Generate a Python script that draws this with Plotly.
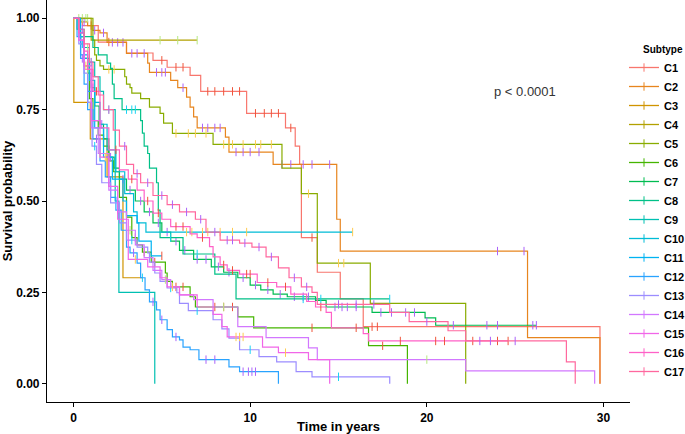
import math
import numpy as np
import plotly.graph_objects as go

# ---------------- data ----------------
subtypes = [f"C{i}" for i in range(1, 18)]

c1_t = [0, 0.5, 1.4, 3.0, 4.5, 5.3, 6.6, 7.2, 9.8, 12.0, 12.55, 12.8, 12.9, 13.8, 15.1, 16.4, 29.8]
c1_s = [1, 0.98, 0.935, 0.905, 0.885, 0.866, 0.844, 0.80, 0.74, 0.70, 0.65, 0.60, 0.40, 0.305, 0.232, 0.156, 0]
c1_c = [1.0, 2.0, 5.0, 5.8, 6.2, 7.6, 8.0, 8.5, 9.0, 9.4, 10.3, 10.8, 11.2, 11.6, 12.3, 13.5, 16.9, 17.2]

c2_t = [0, 0.4, 0.8, 1.1, 1.5, 1.9, 3.0, 4.2, 4.3, 5.5, 5.9, 6.4, 6.6, 6.8, 7.0, 8.6, 8.8, 11.3, 14.9, 15.1, 25.7, 29.8]
c2_s = [1, 0.99, 0.98, 0.967, 0.96, 0.934, 0.904, 0.877, 0.852, 0.83, 0.81, 0.784, 0.757, 0.73, 0.70, 0.675, 0.634, 0.60, 0.45, 0.363, 0.126, 0]
c2_c = [0.6, 1.2, 1.7, 2.2, 2.5, 2.8, 3.3, 3.6, 4.0, 4.7, 5.0, 5.2, 6.2, 7.3, 7.6, 8.0, 8.3, 9.2, 9.6, 10.0, 10.5, 11.8, 12.3, 13.0, 13.5, 14.5, 24.0, 25.5]

c3_t = [0, 0.02, 0.95, 1.9, 2.8]
c3_s = [1, 0.77, 0.67, 0.566, 0.29]
c3_c = [0.8, 3.9]

c4_t = [0, 1.0]
c4_s = [1, 0.94]
c4_c = [0.3, 0.5, 0.7, 0.8, 4.9, 5.9, 7.0]

c5_t = [0, 1.1, 1.2, 1.3, 1.5, 1.7, 2.9, 3.0, 3.2, 3.3, 3.8, 4.3, 4.9, 5.1, 5.6, 7.9, 11.8, 12.9, 13.8, 16.8, 22.2]
c5_s = [1, 0.94, 0.90, 0.885, 0.87, 0.86, 0.84, 0.82, 0.81, 0.795, 0.78, 0.757, 0.74, 0.713, 0.685, 0.655, 0.59, 0.52, 0.33, 0.22, 0]
c5_c = [2.0, 2.3, 5.8, 6.5, 6.9, 7.5, 8.5, 8.8, 9.0, 9.6, 10.3, 10.6, 11.2, 13.3, 15.0, 15.3]

c6_t = [0, 0.3, 0.6, 0.9, 1.1, 1.4, 1.7, 2.0, 2.25, 2.6, 3.0, 3.3, 3.6, 3.9, 4.4, 5.2, 5.3, 5.6, 6.6, 6.9, 9.3, 10.2, 16.7, 18.9]
c6_s = [1, 0.95, 0.87, 0.78, 0.72, 0.68, 0.65, 0.61, 0.58, 0.51, 0.456, 0.40, 0.38, 0.36, 0.333, 0.303, 0.28, 0.265, 0.238, 0.21, 0.183, 0.153, 0.104, 0]
c6_c = [3.5, 4.0, 4.6, 5.8, 6.2, 8.0, 8.5, 9.0, 13.5, 17.5]

c7_t = [0, 0.2, 0.4, 0.6, 0.8, 1.0, 1.2, 1.45, 1.7, 2.0, 2.3, 2.6, 3.0, 3.5, 4.0, 4.5, 5.0, 5.5, 6.0, 6.8, 7.8, 8.5, 9.3, 10.0, 10.6, 11.3, 12.1, 13.7, 14.3, 16.9, 19.9, 20.5]
c7_s = [1, 0.97, 0.93, 0.89, 0.85, 0.81, 0.76, 0.71, 0.67, 0.62, 0.59, 0.56, 0.53, 0.50, 0.47, 0.44, 0.415, 0.39, 0.365, 0.34, 0.32, 0.305, 0.29, 0.27, 0.257, 0.245, 0.238, 0.228, 0.21, 0.195, 0.18, 0.16]
c7_c = [0.5, 1.1, 1.6, 2.1, 2.8, 3.2, 3.8, 4.3, 4.8, 5.3, 5.8, 6.3, 7.0, 7.5, 8.2, 8.8, 9.6, 10.3, 11.0, 11.7, 12.5, 13.0, 13.3, 14.8, 15.2, 15.5, 16.0, 17.4, 18.0, 18.8, 19.3, 21.5, 23.4, 24.0, 26.0, 26.2]

c8_t = [0, 0.3, 0.6, 1.1, 1.4, 1.9, 2.1, 2.2, 2.3, 2.75, 3.8, 3.9, 4.0, 4.2, 4.3, 4.7, 4.8, 4.9, 6.2, 8.0, 9.2]
c8_s = [1, 0.97, 0.95, 0.92, 0.90, 0.877, 0.863, 0.82, 0.78, 0.75, 0.72, 0.686, 0.65, 0.63, 0.59, 0.55, 0.475, 0.40, 0.355, 0.30, 0.232]
c8_c = [3.0, 3.3, 3.5, 5.5, 7.0, 13.0, 14.0, 17.9]

c9_t = [0, 0.3, 0.6, 0.9, 1.2, 1.5, 1.7, 2.36, 2.57, 4.6]
c9_s = [1, 0.96, 0.92, 0.88, 0.84, 0.80, 0.75, 0.50, 0.25, 0]
c9_c = [0.8, 1.0, 2.0]

c10_t = [0, 0.3, 0.6, 0.9, 1.2, 1.5, 1.9, 2.4, 2.9, 3.4, 3.6, 4.1]
c10_s = [1, 0.95, 0.89, 0.83, 0.77, 0.71, 0.64, 0.58, 0.52, 0.47, 0.44, 0.415]
c10_c = [1.0, 6.4, 6.7, 7.3, 7.6, 8.3, 9.0, 9.8, 15.8]

c11_t = [0, 0.4, 0.8, 1.2, 1.7, 2.2, 2.8, 3.0, 3.6, 3.7, 4.4]
c11_s = [1, 0.90, 0.80, 0.70, 0.62, 0.56, 0.50, 0.46, 0.44, 0.39, 0.35]
c11_c = [2.0, 5.0]

c12_t = [0, 0.2, 0.4, 0.6, 0.8, 1.1, 1.5, 1.8, 2.1, 2.4, 2.7, 3.0, 3.2, 3.6, 3.8, 4.05, 4.3, 4.7, 4.9, 5.3, 5.6, 6.0, 6.2, 6.6, 7.1, 8.8, 9.4, 11.6]
c12_s = [1, 0.95, 0.89, 0.82, 0.75, 0.67, 0.61, 0.566, 0.51, 0.475, 0.42, 0.374, 0.358, 0.33, 0.29, 0.257, 0.224, 0.202, 0.175, 0.148, 0.128, 0.12, 0.10, 0.093, 0.066, 0.046, 0.033, 0]
c12_c = [0.5, 1.3, 2.5, 3.4, 4.5, 5.0, 5.8, 7.5, 8.0, 9.6, 9.9, 10.1, 10.3]

c13_t = [0, 0.3, 0.6, 0.8, 1.05, 1.3, 1.6, 2.1, 2.6, 3.0, 3.6, 4.2, 4.3, 4.6, 4.9, 5.3, 5.85, 6.0, 6.5, 7.9, 8.4, 8.8, 9.4, 10.5, 11.5, 12.6, 13.5, 17.9]
c13_s = [1, 0.93, 0.85, 0.77, 0.65, 0.60, 0.55, 0.495, 0.44, 0.393, 0.374, 0.358, 0.333, 0.303, 0.28, 0.262, 0.249, 0.22, 0.20, 0.175, 0.15, 0.125, 0.093, 0.074, 0.06, 0.033, 0.019, 0]
c13_c = [0.5, 1.2, 2.0, 3.3, 5.5, 7.0, 10.0, 15.0]

c14_t = [0, 0.3, 0.6, 1.0, 1.4, 2.0, 2.5, 3.0, 3.5, 4.0, 4.5, 5.0, 5.5, 6.0, 6.8, 7.9, 9.3, 10.9, 13.3, 13.8, 22.2, 29.5]
c14_s = [1, 0.94, 0.86, 0.70, 0.63, 0.53, 0.47, 0.42, 0.38, 0.345, 0.31, 0.285, 0.265, 0.243, 0.23, 0.21, 0.156, 0.126, 0.098, 0.066, 0.035, 0]
c14_c = [0.8, 1.5, 3.2, 5.2, 8.5, 20.0]

c15_t = [0, 0.3, 0.6, 1.0, 1.5, 2.0, 2.5, 3.1, 4.2, 4.9, 5.3, 6.0, 7.0, 7.9, 8.4, 8.7, 10.7, 11.6, 13.3, 14.5]
c15_s = [1, 0.94, 0.87, 0.72, 0.62, 0.54, 0.45, 0.34, 0.32, 0.29, 0.265, 0.243, 0.21, 0.19, 0.156, 0.128, 0.10, 0.085, 0.066, 0]
c15_c = [0.7, 1.8, 3.5, 5.6, 9.2, 9.4, 9.6, 12.0]

c16_t = [0, 0.3, 0.6, 0.8, 1.1, 1.5, 2.0, 2.6, 3.1, 3.6, 4.0, 4.5, 5.0, 5.5, 6.6, 7.0, 7.7, 7.9, 8.3, 8.7, 9.4, 10.4, 11.5, 12.3, 13.2, 13.7, 14.3, 14.6, 16.4, 16.7]
c16_s = [1, 0.96, 0.91, 0.86, 0.80, 0.70, 0.64, 0.585, 0.56, 0.53, 0.50, 0.467, 0.45, 0.43, 0.41, 0.40, 0.375, 0.347, 0.325, 0.31, 0.30, 0.277, 0.265, 0.245, 0.225, 0.21, 0.195, 0.153, 0.137, 0.117]
c16_c = [1.3, 2.4, 3.3, 4.2, 4.8, 5.8, 6.2, 7.3, 8.5, 9.0, 9.8, 10.0, 11.0, 12.0, 14.0, 16.0, 18.5, 20.5, 21.0, 22.6, 24.0, 24.6]

c17_t = [0, 0.3, 0.6, 0.9, 1.1, 1.4, 1.7, 2.25, 2.6, 3.0, 3.4, 3.8, 4.5, 5.3, 6.0, 6.9, 7.5, 8.3, 9.4, 10.1, 10.9, 11.6, 12.2, 12.9, 13.5, 13.8, 17.9, 19.0, 21.2, 22.2, 27.9, 28.4]
c17_s = [1, 0.97, 0.93, 0.88, 0.84, 0.79, 0.75, 0.694, 0.65, 0.60, 0.575, 0.55, 0.515, 0.49, 0.47, 0.45, 0.415, 0.393, 0.385, 0.374, 0.347, 0.317, 0.29, 0.265, 0.25, 0.217, 0.195, 0.17, 0.145, 0.117, 0.06, 0]
c17_c = [0.5, 1.0, 2.0, 2.9, 3.6, 4.2, 5.0, 5.6, 6.4, 7.2, 8.0, 8.7, 9.0, 9.7, 10.5, 11.2, 12.5, 13.2, 15.0, 16.0, 17.0, 20.0, 23.0, 23.6, 25.0]

x_ticks = [0, 10, 20, 30]
y_ticks = [0, 0.25, 0.5, 0.75, 1.0]
y_tick_labels = ["0.00", "0.25", "0.50", "0.75", "1.00"]
p_text = "p < 0.0001"

curves = [
    (c1_t, c1_s, c1_c), (c2_t, c2_s, c2_c), (c3_t, c3_s, c3_c), (c4_t, c4_s, c4_c),
    (c5_t, c5_s, c5_c), (c6_t, c6_s, c6_c), (c7_t, c7_s, c7_c), (c8_t, c8_s, c8_c),
    (c9_t, c9_s, c9_c), (c10_t, c10_s, c10_c), (c11_t, c11_s, c11_c), (c12_t, c12_s, c12_c),
    (c13_t, c13_s, c13_c), (c14_t, c14_s, c14_c), (c15_t, c15_s, c15_c), (c16_t, c16_s, c16_c),
    (c17_t, c17_s, c17_c),
]


# ---------------- ggplot2 hue palette ----------------
def hcl_hex(h, c=100.0, l=65.0):
    Xn, Yn, Zn = 95.047, 100.0, 108.883
    hr = math.radians(h)
    U = c * math.cos(hr)
    V = c * math.sin(hr)
    Y = Yn * ((l + 16) / 116) ** 3 if l > 8 else Yn * l / 903.3
    tt = Xn + Yn + Zn
    x = Xn / tt
    y = Yn / tt
    uN = 2 * x / (6 * y - x + 1.5)
    vN = 4.5 * y / (6 * y - x + 1.5)
    u = U / (13 * l) + uN
    v = V / (13 * l) + vN
    X = 9.0 * Y * u / (4 * v)
    Z = -X / 3 - 5 * Y + 3 * Y / v
    X, Y, Z = X / 100, Y / 100, Z / 100
    r = 3.240479 * X - 1.537150 * Y - 0.498535 * Z
    g = -0.969256 * X + 1.875992 * Y + 0.041556 * Z
    b = 0.055648 * X - 0.204043 * Y + 1.057311 * Z

    def gam(q):
        q = 1.055 * q ** (1 / 2.4) - 0.055 if q > 0.00304 else 12.92 * q
        return int(round(max(0, min(1, q)) * 255))

    return "#%02X%02X%02X" % (gam(r), gam(g), gam(b))


n = len(subtypes)
colors = [hcl_hex(15 + 360 * i / n) for i in range(n)]


def km_path(t, s, cens):
    pts = [(ti, si, 0) for ti, si in zip(t, s)]
    for c in cens:
        idx = int(np.searchsorted(t, c, side="right")) - 1
        pts.append((c, s[idx], 1))
    pts.sort(key=lambda p: (p[0], p[2]))
    xs = [p[0] for p in pts]
    ys = [p[1] for p in pts]
    cx = [p[0] for p in pts if p[2] == 1]
    cy = [p[1] for p in pts if p[2] == 1]
    return xs, ys, cx, cy


fig = go.Figure()
for name, col, (t, s, c) in zip(subtypes, colors, curves):
    xs, ys, cx, cy = km_path(t, s, c)
    fig.add_trace(go.Scatter(x=xs, y=ys, mode="lines", line=dict(color=col, width=1.2, shape="hv"),
                             showlegend=False, hoverinfo="skip"))
    fig.add_trace(go.Scatter(x=cx, y=cy, mode="markers",
                             marker=dict(symbol="line-ns-open", size=6, line=dict(color=col, width=1)),
                             showlegend=False, hoverinfo="skip"))
for name, col in zip(subtypes, colors):
    fig.add_trace(go.Scatter(x=[None], y=[None], mode="lines+markers", name=name,
                             line=dict(color=col, width=1.3),
                             marker=dict(symbol="line-ns-open", size=6, line=dict(color=col, width=1))))

FONT = "Liberation Sans Narrow, Arial Narrow, Liberation Sans, Arial"
tick_font = dict(family=FONT, size=12, color="black", weight="bold")
title_font = dict(family=FONT, size=13, color="black", weight="bold")

W, H = 685, 434
ML, MR, MT, MB = 47, 55, 0, 32
plot_w = W - ML - MR
plot_h = H - MT - MB

fig.update_layout(
    width=W, height=H,
    margin=dict(l=ML, r=MR, t=MT, b=MB, autoexpand=False),
    paper_bgcolor="white", plot_bgcolor="white",
    xaxis=dict(range=[-1.5, 31.5], tickvals=x_ticks, ticktext=[str(v) for v in x_ticks],
               showline=True, linecolor="black", linewidth=1.2, ticks="outside", ticklen=4,
               tickcolor="black", tickwidth=1.2, showgrid=False, zeroline=False, tickfont=tick_font,
               title=dict(text="Time in years", font=title_font, standoff=4)),
    yaxis=dict(range=[-0.05, 1.05], tickvals=y_ticks, ticktext=y_tick_labels,
               showline=True, linecolor="black", linewidth=1.2, ticks="outside", ticklen=4,
               tickcolor="black", tickwidth=1.2, showgrid=False, zeroline=False, tickfont=tick_font,
               title=dict(text="Survival probability", font=title_font, standoff=4)),
    legend=dict(x=(624 - ML) / plot_w, y=1 - 53 / plot_h, xanchor="left", yanchor="top",
                bgcolor="rgba(0,0,0,0)",
                font=dict(family="Liberation Sans, Arial", size=11, color="black", weight="bold"),
                tracegroupgap=0),
    annotations=[
        dict(x=25.55, y=0.80, xref="x", yref="y", text=p_text, showarrow=False,
             font=dict(family="Liberation Sans, Arial", size=13, color="#333333")),
        dict(x=(641 - ML) / plot_w, y=1 - 50 / plot_h, xref="paper", yref="paper", text="Subtype",
             showarrow=False, xanchor="left", yanchor="middle",
             font=dict(family="Liberation Sans, Arial", size=10, color="black", weight="bold")),
    ],
)

fig.write_html("out.html", config={"displayModeBar": False},
               post_script="document.body.style.margin='0';document.body.style.padding='0';")
